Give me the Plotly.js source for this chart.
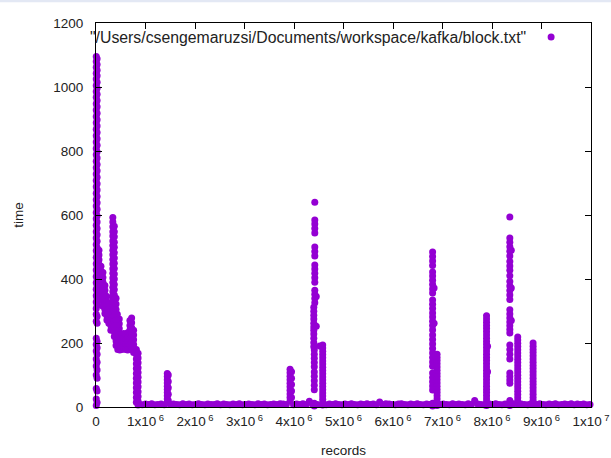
<!DOCTYPE html>
<html><head><meta charset="utf-8">
<script src="https://cdn.plot.ly/plotly-3.0.1.min.js"></script>
<style>html,body{margin:0;padding:0;background:#fff}#chart{width:611px;height:458px}</style>
</head><body><div id="chart"></div>
<script>
// ---- data (records, time) ----
const fileLabel = '"/Users/csengemaruzsi/Documents/workspace/kafka/block.txt"';
const xTickVals = [0,1e6,2e6,3e6,4e6,5e6,6e6,7e6,8e6,9e6,1e7];
const xTickText = ['0','1x10<sup> 6</sup>','2x10<sup> 6</sup>','3x10<sup> 6</sup>','4x10<sup> 6</sup>','5x10<sup> 6</sup>','6x10<sup> 6</sup>','7x10<sup> 6</sup>','8x10<sup> 6</sup>','9x10<sup> 6</sup>','1x10<sup> 7</sup>'];
const yTickVals = [0,200,400,600,800,1000,1200];

// vertical groups: one records value, many time values
const start0X = 5000;
const start0Y = [1095,1080,1062,1043,1025,1005,986,968,948,928,908,888,868,848,828,808,788,768,748,728,708,688,668,648,628,608,588,568,548,528,508,488,468,448,428,408,388,368,348,328,308,290,268,215,195,175,150,128,100,58,25,5];
const start1X = 22000;
const start1Y = [1088,1070,1052,1035,1015,996,977,958,938,918,898,878,858,838,818,798,778,758,738,718,698,678,658,638,618,598,578,558,538,518,498,478,458,438,418,398,378,358,338,318,283,262,205,185,165,140,116,90,50,14];
const decayAX = 60000;   const decayAY = [490,475,460,445,430,415,400,385,370,355];
const decayBX = 100000;  const decayBY = [440,425,410,395,380,365,350,335];
const decayCX = 140000;  const decayCY = [420,405,390,375,360,345,330,315];
const decayDX = 180000;  const decayDY = [380,365,350,335,320,305,292];
const decayEX = 220000;  const decayEY = [345,330,315,300,285,272];
const decayFX = 260000;  const decayFY = [320,305,290,275,262];
const decayGX = 300000;  const decayGY = [300,285,270,255,240];
const decayHX = 430000;  const decayHY = [290,275,260,245,230];
const decayIX = 470000;  const decayIY = [275,260,245,230,215];
const peakAX = 340000;   const peakAY = [592,578,563,548,534,519,505,490,476,461,447,432,418,403,389,374,360,345,331,316,302,288];
const peakBX = 370000;   const peakBY = [565,548,532,515,499,482,466,449,433,416,400,383,367,350,334,317,301,284,268,251,235,220];
const peakCX = 405000;   const peakCY = [340,322,305,288,271,254,238,222,206,192];
const blobAX = 440000;   const blobAY = [225,210,195,180];
const blobBX = 480000;   const blobBY = [220,205,190,178];
const blobCX = 520000;   const blobCY = [225,210,195,180];
const blobDX = 560000;   const blobDY = [230,215,200,185];
const blobEX = 600000;   const blobEY = [225,210,195,180];
const blobFX = 640000;   const blobFY = [232,217,202,188,178];
const bumpAX = 685000;   const bumpAY = [270,255,240,225,210,195,180];
const bumpBX = 720000;   const bumpBY = [278,263,248,233,218,203,188];
const bumpCX = 760000;   const bumpCY = [240,225,210,195,180,170];
const dropAX = 815000;   const dropAY = [180,165,150,135,120,105,90,75,60,45,30,15];
const dropBX = 850000;   const dropBY = [168,153,138,123,108,93,78,63,48,33,18,6];
const s144AX = 1440000;  const s144AY = [105,95,85,75,65,55,45,35,25,15];
const s144BX = 1460000;  const s144BY = [100,80,60,40,20];
const s392AX = 3920000;  const s392AY = [118,107,96,85,74,63,52,41,30,19];
const s392BX = 3950000;  const s392BY = [110,90,70,50,30];
const s442AX = 4420000;  const s442AY = [640,584,572,558,544,500,486,472,444,431,418,404,390,365,352,339,326];
const s442BX = 4400000;  const s442BY = [312,299,287,275,262,250,240,228,215,201,188];
const s442CX = 4410000;  const s442CY = [178,165,152,139,126,109,96,82,68,54,12,3];
const s442DX = 4450000;  const s442DY = [345,252];
const s458AX = 4580000;  const s458AY = [194,184,174,164,154,144,134,124,114,104,94,84,74,64,54,44,34,24,14,6];
const s458BX = 4520000;  const s458BY = [191];
const s680AX = 6800000;  const s680AY = [484,470,456,442,422,409,396,383,369,356,334,321,308,294,281,268,255,241,225,211,197,183,169,155,141,127,106,92,79,66,53,12,3];
const s680BX = 6830000;  const s680BY = [372,262];
const s689AX = 6890000;  const s689AY = [165,155,145,135,125,115,105,95,85,75,65,55,45,35,25,15,5];
const s689BX = 6860000;  const s689BY = [162];
const s789AX = 7890000;  const s789AY = [285,275,265,255,245,235,225,215,205,195,185,175,165,155,145,135,125,115,105,95,85,75,65,55,45,35,25,15,5];
const s789BX = 7910000;  const s789BY = [190,110];
const s836AX = 8360000;  const s836AY = [594,528,515,501,487,472,455,441,427,410,392,378,364,350,336,304,291,278,266,254,242,231,194,180,165,150,106,95,84,74,20,5];
const s836BX = 8390000;  const s836BY = [490,372,270];
const s852X = 8520000;   const s852Y = [219,209,199,189,179,169,159,149,139,129,119,109,99,89,79,69,59,49,39,29,19,9];
const s883X = 8830000;   const s883Y = [200,190,180,170,160,150,140,130,120,110,100,90,80,70,60,50,40,30,20,10];

// the low floor of points along the bottom
const floorX = [880000,935000,1000000,1060000,1125000,1190000,1250000,1315000,1380000,1500000,
1565000,1630000,1690000,1755000,1820000,1880000,1945000,2010000,2070000,2135000,
2200000,2260000,2325000,2390000,2450000,2515000,2580000,2640000,2705000,2770000,
2830000,2895000,2960000,3020000,3085000,3150000,3210000,3275000,3340000,3400000,
3465000,3530000,3590000,3655000,3720000,3780000,3845000,3990000,4055000,4120000,
4180000,4245000,4310000,4370000,4470000,4650000,4715000,4780000,4840000,4905000,
4970000,5030000,5095000,5160000,5220000,5285000,5350000,5410000,5475000,5540000,
5600000,5665000,5730000,5790000,5855000,5920000,5980000,6045000,6110000,6170000,
6235000,6300000,6360000,6425000,6490000,6550000,6615000,6680000,6740000,6950000,
7015000,7080000,7140000,7205000,7270000,7330000,7395000,7460000,7520000,7585000,
7650000,7710000,7775000,7840000,7950000,8010000,8075000,8140000,8200000,8265000,
8300000,8430000,8590000,8655000,8720000,8780000,8900000,8965000,9030000,9090000,
9155000,9220000,9280000,9345000,9410000,9470000,9535000,9600000,9660000,9725000,
9790000,9850000,9915000,9980000];
const floorY = [8,7,9,8,10,7,8,9,7,8,
9,8,7,10,8,9,7,8,10,8,
7,9,8,8,10,7,9,8,7,9,
8,10,7,8,9,8,7,10,8,9,
7,8,9,8,10,9,8,7,9,8,
10,8,18,9,8,7,9,8,10,8,
7,9,8,10,8,7,9,8,10,8,
9,7,16,8,10,9,8,7,9,10,
8,7,9,8,10,8,7,9,8,8,
9,8,7,10,8,9,8,7,10,8,
20,9,8,7,9,8,10,8,7,9,
8,10,9,8,7,9,8,10,8,7,
9,8,10,7,8,9,8,10,7,9,
8,9,7,8];

const groups = [
  [start0X,start0Y],[start1X,start1Y],
  [decayAX,decayAY],[decayBX,decayBY],[decayCX,decayCY],[decayDX,decayDY],[decayEX,decayEY],[decayFX,decayFY],[decayGX,decayGY],[decayHX,decayHY],[decayIX,decayIY],
  [peakAX,peakAY],[peakBX,peakBY],[peakCX,peakCY],
  [blobAX,blobAY],[blobBX,blobBY],[blobCX,blobCY],[blobDX,blobDY],[blobEX,blobEY],[blobFX,blobFY],
  [bumpAX,bumpAY],[bumpBX,bumpBY],[bumpCX,bumpCY],
  [dropAX,dropAY],[dropBX,dropBY],
  [s144AX,s144AY],[s144BX,s144BY],[s392AX,s392AY],[s392BX,s392BY],
  [s442AX,s442AY],[s442BX,s442BY],[s442CX,s442CY],[s442DX,s442DY],[s458AX,s458AY],[s458BX,s458BY],
  [s680AX,s680AY],[s680BX,s680BY],[s689AX,s689AY],[s689BX,s689BY],
  [s789AX,s789AY],[s789BX,s789BY],
  [s836AX,s836AY],[s836BX,s836BY],[s852X,s852Y],[s883X,s883Y]
];
const xs = [], ys = [];
for (const [gx, gy] of groups) { for (const v of gy) { xs.push(gx); ys.push(v); } }
for (let i = 0; i < floorX.length; i++) { xs.push(floorX[i]); ys.push(floorY[i]); }

const FONT = 'Liberation Sans, Arial, sans-serif';
const TXT = '#222';
const trace = {
  type: 'scatter', mode: 'markers', x: xs, y: ys, name: ' ',
  marker: {symbol: 'circle', size: 7, color: '#9400D3', line: {width: 0}},
  cliponaxis: false, showlegend: true, hoverinfo: 'skip'
};
const axisCommon = {
  showline: true, linecolor: '#000', linewidth: 1, mirror: 'ticks',
  ticks: 'inside', ticklen: 6, tickcolor: '#000', tickwidth: 1,
  showgrid: false, zeroline: false, automargin: false,
  tickfont: {family: FONT, size: 13.5, color: TXT}
};
const layout = {
  width: 611, height: 458,
  margin: {l: 96, r: 20, t: 23, b: 51},
  paper_bgcolor: '#fff', plot_bgcolor: '#fff',
  font: {family: FONT, size: 13.5, color: TXT},
  xaxis: Object.assign({}, axisCommon, {
    range: [0, 1e7], tickmode: 'array', tickvals: xTickVals, ticktext: xTickText,
    ticklabelstandoff: 2,
    title: {text: 'records', font: {family: FONT, size: 13.5, color: TXT}, standoff: 19}
  }),
  yaxis: Object.assign({}, axisCommon, {
    range: [0, 1200], tickmode: 'array', tickvals: yTickVals,
    ticklabelstandoff: 9,
    title: {text: 'time', font: {family: FONT, size: 13.5, color: TXT}, standoff: 26}
  }),
  showlegend: true,
  legend: {x: 0.879, xanchor: 'left', y: 1.003, yanchor: 'top', bgcolor: 'rgba(0,0,0,0)', borderwidth: 0, font: {family: FONT, size: 13.5, color: TXT}},
  annotations: [{
    text: fileLabel, xref: 'paper', yref: 'paper', x: 0.873, y: 0.9635,
    xanchor: 'right', yanchor: 'middle', showarrow: false,
    font: {family: FONT, size: 15.8, color: TXT}
  }],
  shapes: [{type: 'rect', xref: 'paper', yref: 'paper', x0: -0.2, x1: 1.05, y0: 1.054, y1: 1.062, fillcolor: '#e3e8f4', line: {width: 0}, layer: 'below'}]
};
Plotly.newPlot('chart', [trace], layout, {displayModeBar: false, staticPlot: true});
</script>
</body></html>
